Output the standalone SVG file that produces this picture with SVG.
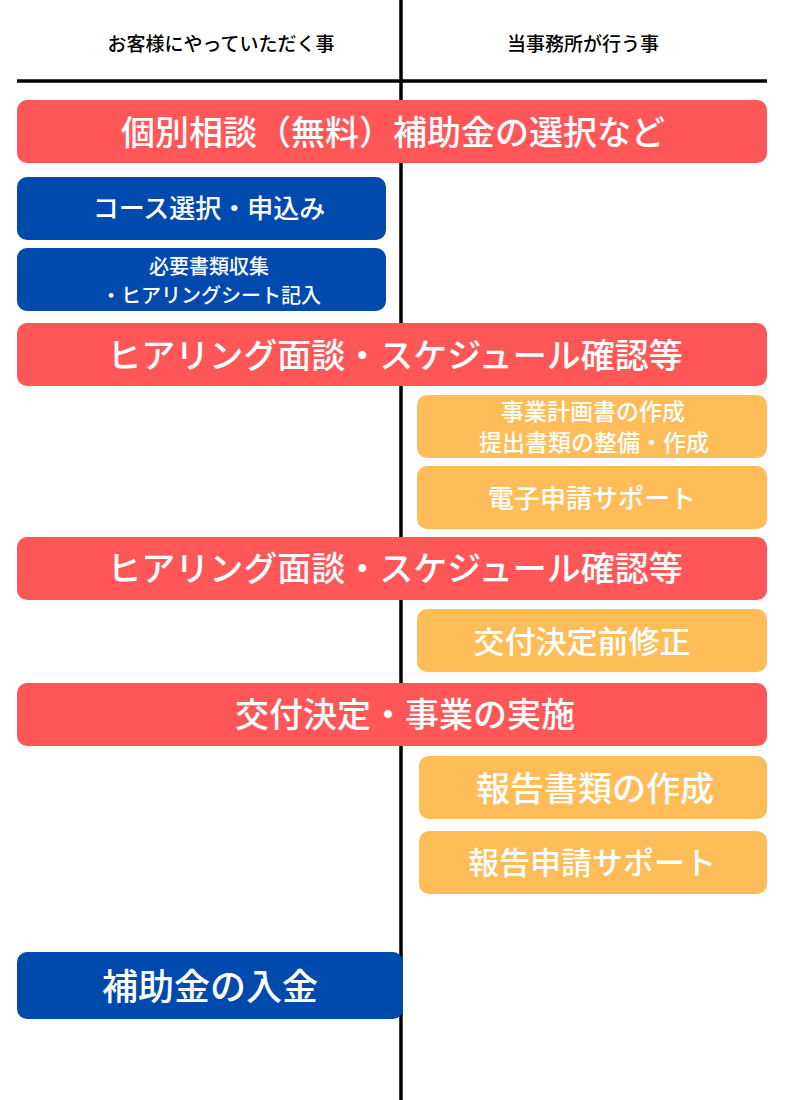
<svg xmlns="http://www.w3.org/2000/svg" width="800" height="1100" viewBox="0 0 800 1100">
<style>
.red{fill:#FF5757}
.blue{fill:#004AAD}
.orange{fill:#FFBD59}
text{font-family:"Noto Sans CJK JP","Noto Sans",sans-serif;text-anchor:middle;dominant-baseline:central}
.w{fill:#ffffff;font-weight:500}
.h{fill:#000000;font-size:19px;font-weight:500}
</style>
<rect width="800" height="1100" fill="#ffffff"/>
<g id="lines" stroke="#000" stroke-width="3.5">
<line x1="401" y1="0" x2="401" y2="1100"/>
<line x1="17" y1="81" x2="767" y2="81"/>
</g>
<g id="header-left"><text class="h" x="221" y="42">お客様にやっていただく事</text></g>
<g id="header-right"><text class="h" x="583" y="42">当事務所が行う事</text></g>
<g id="n1"><rect class="red" x="17" y="100" width="750" height="63" rx="10"/><text class="w" x="393" y="130" font-size="34">個別相談（無料）補助金の選択など</text></g>
<g id="n2"><rect class="blue" x="17" y="177" width="369" height="63" rx="10"/><text class="w" x="209" y="206" font-size="26">コース選択・申込み</text></g>
<g id="n3"><rect class="blue" x="17" y="248" width="369" height="63" rx="10"/><text class="w" x="209" y="265" font-size="20">必要書類収集</text><text class="w" x="211" y="294" font-size="20">・ヒアリングシート記入</text></g>
<g id="n4"><rect class="red" x="17" y="323" width="750" height="63" rx="10"/><text class="w" x="395" y="353" font-size="34">ヒアリング面談・スケジュール確認等</text></g>
<g id="n5"><rect class="orange" x="417" y="395" width="350" height="63" rx="10"/><text class="w" x="593" y="410" font-size="23">事業計画書の作成</text><text class="w" x="594" y="441" font-size="23">提出書類の整備・作成</text></g>
<g id="n6"><rect class="orange" x="417" y="466" width="350" height="63" rx="10"/><text class="w" x="592" y="496" font-size="26">電子申請サポート</text></g>
<g id="n7"><rect class="red" x="17" y="537" width="750" height="63" rx="10"/><text class="w" x="395" y="566" font-size="34">ヒアリング面談・スケジュール確認等</text></g>
<g id="n8"><rect class="orange" x="417" y="609" width="350" height="63" rx="10"/><text class="w" x="582" y="639" font-size="31">交付決定前修正</text></g>
<g id="n9"><rect class="red" x="17" y="683" width="750" height="63" rx="10"/><text class="w" x="405" y="712" font-size="34">交付決定・事業の実施</text></g>
<g id="n10"><rect class="orange" x="419" y="756" width="348" height="63" rx="10"/><text class="w" x="595" y="786" font-size="34">報告書類の作成</text></g>
<g id="n11"><rect class="orange" x="419" y="831" width="348" height="63" rx="10"/><text class="w" x="592" y="860" font-size="31">報告申請サポート</text></g>
<g id="n12"><rect class="blue" x="17" y="952" width="386" height="67" rx="10"/><text class="w" x="210" y="984" font-size="36">補助金の入金</text></g>
</svg>
